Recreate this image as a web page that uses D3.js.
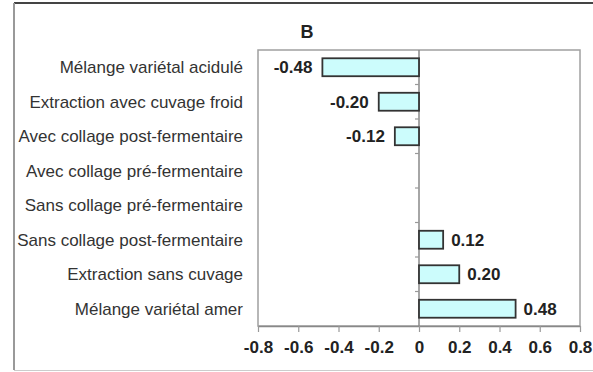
<!DOCTYPE html>
<html>
<head>
<meta charset="utf-8">
<script src="https://cdn.jsdelivr.net/npm/d3@7"></script>
<style>
  body { margin: 0; background: #fff; }
  text { font-family: "Liberation Sans", Arial, sans-serif; }
</style>
</head>
<body>
<script>
  // data
  const categories = [
    'Mélange variétal acidulé',
    'Extraction avec cuvage froid',
    'Avec collage post-fermentaire',
    'Avec collage pré-fermentaire',
    'Sans collage pré-fermentaire',
    'Sans collage post-fermentaire',
    'Extraction sans cuvage',
    'Mélange variétal amer',
  ];
  const values = [-0.48, -0.20, -0.12, 0, 0, 0.12, 0.20, 0.48];
  const xTicks = [-0.8, -0.6, -0.4, -0.2, 0, 0.2, 0.4, 0.6, 0.8];
  const title = 'B';

  const width = 593;
  const height = 372;
  const margin = { top: 50, right: 13, bottom: 46, left: 258 };

  const svg = d3.select('body')
    .append('svg')
    .attr('width', width)
    .attr('height', height);

  // outer frame
  svg.append('line')
    .attr('x1', 14).attr('x2', width).attr('y1', 3).attr('y2', 3)
    .attr('stroke', '#444').attr('stroke-width', 2);
  svg.append('line')
    .attr('x1', 14).attr('x2', 14).attr('y1', 3).attr('y2', 370)
    .attr('stroke', '#999').attr('stroke-width', 2);
  svg.append('line')
    .attr('x1', 14).attr('x2', width).attr('y1', 370.5).attr('y2', 370.5)
    .attr('stroke', '#ccc').attr('stroke-width', 1);

  const x = d3.scaleLinear()
    .domain([-0.8, 0.8])
    .range([margin.left, width - margin.right]);

  // outer padding = half the inner padding, so the cells split the plot evenly
  const y = d3.scaleBand()
    .domain(categories)
    .range([margin.top, height - margin.bottom])
    .paddingInner(0.48)
    .paddingOuter(0.24);

  const fmtMinus = (s) => s.replace('\u2212', '-');
  const valueFmt = d3.format('.2f');
  const tickFmt = (d) => (d === 0 ? '0' : fmtMinus(d3.format('.1f')(d)));

  // plot frame
  svg.append('rect')
    .attr('x', margin.left)
    .attr('y', margin.top)
    .attr('width', width - margin.right - margin.left)
    .attr('height', height - margin.bottom - margin.top)
    .attr('fill', 'none')
    .attr('stroke', '#a0a0a0')
    .attr('stroke-width', 1.5);

  // x axis
  const xAxis = svg.append('g')
    .attr('transform', `translate(0,${height - margin.bottom})`)
    .call(d3.axisBottom(x).tickValues(xTicks).tickFormat(tickFmt)
      .tickSize(6).tickSizeOuter(0).tickPadding(9));
  xAxis.select('.domain').attr('stroke', '#888').attr('stroke-width', 1.5);
  xAxis.selectAll('.tick line').attr('stroke', '#999').attr('stroke-width', 1.2);
  xAxis.selectAll('.tick text')
    .attr('fill', '#222')
    .style('font-size', '17px')
    .style('font-weight', 'bold');

  // zero line with ticks between categories
  const step = y.step();
  svg.append('line')
    .attr('x1', x(0)).attr('x2', x(0))
    .attr('y1', margin.top).attr('y2', height - margin.bottom)
    .attr('stroke', '#888').attr('stroke-width', 1.5);
  svg.selectAll('.band-tick')
    .data(d3.range(1, categories.length))
    .join('line')
    .attr('class', 'band-tick')
    .attr('x1', x(0) - 4).attr('x2', x(0))
    .attr('y1', (i) => margin.top + i * step)
    .attr('y2', (i) => margin.top + i * step)
    .attr('stroke', '#999').attr('stroke-width', 1.2);

  // bars
  const rows = categories.map((c, i) => ({ c, v: values[i] }));
  svg.selectAll('.bar')
    .data(rows.filter((d) => d.v !== 0))
    .join('rect')
    .attr('class', 'bar')
    .attr('x', (d) => x(Math.min(0, d.v)))
    .attr('y', (d) => y(d.c))
    .attr('width', (d) => Math.abs(x(d.v) - x(0)))
    .attr('height', y.bandwidth())
    .attr('fill', '#ccfcfc')
    .attr('stroke', '#333')
    .attr('stroke-width', 1.8);

  // value labels
  svg.selectAll('.val')
    .data(rows.filter((d) => d.v !== 0))
    .join('text')
    .attr('class', 'val')
    .attr('x', (d) => (d.v < 0 ? x(d.v) - 10 : x(d.v) + 8))
    .attr('y', (d) => y(d.c) + y.bandwidth() / 2)
    .attr('dy', '0.36em')
    .attr('text-anchor', (d) => (d.v < 0 ? 'end' : 'start'))
    .attr('fill', '#222')
    .style('font-size', '17px')
    .style('font-weight', 'bold')
    .text((d) => fmtMinus(valueFmt(d.v)));

  // category labels
  svg.selectAll('.cat')
    .data(categories)
    .join('text')
    .attr('class', 'cat')
    .attr('x', 243)
    .attr('y', (d) => y(d) + y.bandwidth() / 2)
    .attr('dy', '0.36em')
    .attr('text-anchor', 'end')
    .attr('fill', '#333')
    .style('font-size', '17px')
    .text((d) => d);

  // title
  svg.append('text')
    .attr('x', 307)
    .attr('y', 38)
    .attr('text-anchor', 'middle')
    .attr('fill', '#222')
    .style('font-size', '18px')
    .style('font-weight', 'bold')
    .text(title);
</script>
</body>
</html>
